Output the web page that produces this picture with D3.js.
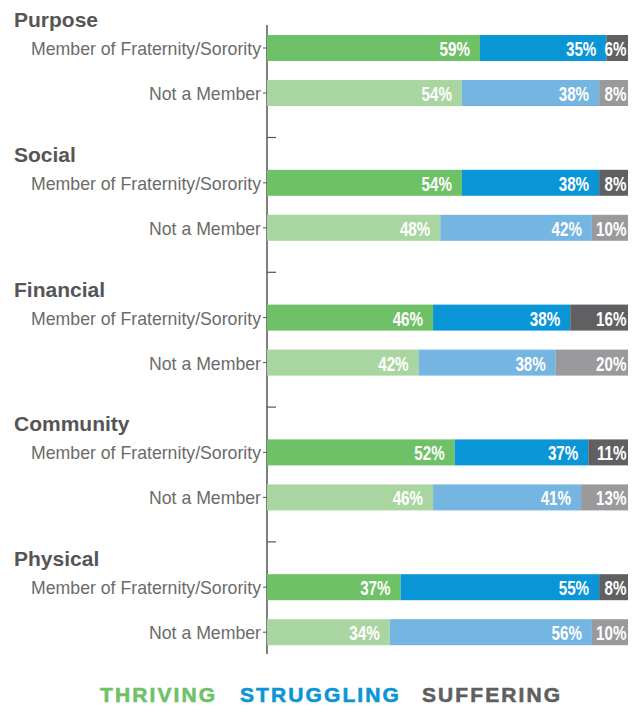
<!DOCTYPE html>
<html>
<head>
<meta charset="utf-8">
<script src="https://cdn.jsdelivr.net/npm/d3@7"></script>
<style>
  body { margin: 0; background: #fff; }
  svg { display: block; }
</style>
</head>
<body>
<svg id="chart"></svg>
<script>
"use strict";

// data
const categories = ["Purpose", "Social", "Financial", "Community", "Physical"];
const groups = ["Member of Fraternity/Sorority", "Not a Member"];
const statuses = ["THRIVING", "STRUGGLING", "SUFFERING"];

const memberValues = [
  [59, 35, 6],
  [54, 38, 8],
  [46, 38, 16],
  [52, 37, 11],
  [37, 55, 8]
];
const nonMemberValues = [
  [54, 38, 8],
  [48, 42, 10],
  [42, 38, 20],
  [46, 41, 13],
  [34, 56, 10]
];

const memberColors = ["#6fc167", "#0a96d6", "#606062"];
const nonMemberColors = ["#a9d6a0", "#74b5e2", "#9a9a9c"];
const legendColors = ["#6fc167", "#0a96d6", "#5f5f61"];

const WIDTH = 636;
const HEIGHT = 706;
const AXIS_X = 267;
const BAR_HEIGHT = 26;

const svg = d3.select("#chart")
  .attr("width", WIDTH)
  .attr("height", HEIGHT);

const x = d3.scaleLinear()
  .domain([0, 100])
  .range([AXIS_X, 628]);

const groupY = d3.scaleBand()
  .domain(categories)
  .range([8, 8 + 134.8 * categories.length]);

const rowY = d3.scalePoint()
  .domain(groups)
  .range([27, 72]);

// vertical axis line
svg.append("line")
  .attr("x1", AXIS_X).attr("x2", AXIS_X)
  .attr("y1", 25).attr("y2", 654)
  .attr("stroke", "#555")
  .attr("stroke-width", 1.5);

const group = svg.selectAll("g.cat")
  .data(categories)
  .enter()
  .append("g")
  .attr("class", "cat")
  .attr("transform", function(d) { return "translate(0," + groupY(d) + ")"; });

group.append("text")
  .attr("x", 14)
  .attr("y", 19)
  .attr("font-family", "Liberation Sans, Arial, sans-serif")
  .attr("font-weight", "bold")
  .attr("font-size", 21)
  .attr("fill", "#555")
  .text(function(d) { return d; });

// separator ticks between groups
group.filter(function(d, i) { return i < categories.length - 1; })
  .append("line")
  .attr("x1", AXIS_X).attr("x2", AXIS_X + 9)
  .attr("y1", 129.5).attr("y2", 129.5)
  .attr("stroke", "#555")
  .attr("stroke-width", 1.2);

group.each(function(cat, ci) {
  const g = d3.select(this);
  groups.forEach(function(row, ri) {
    const vals = ri === 0 ? memberValues[ci] : nonMemberValues[ci];
    const colors = ri === 0 ? memberColors : nonMemberColors;
    const y0 = rowY(row);

    // small tick left of axis
    g.append("line")
      .attr("x1", AXIS_X - 4).attr("x2", AXIS_X)
      .attr("y1", y0 + BAR_HEIGHT / 2).attr("y2", y0 + BAR_HEIGHT / 2)
      .attr("stroke", "#555")
      .attr("stroke-width", 1);

    g.append("text")
      .attr("x", 261)
      .attr("y", y0 + BAR_HEIGHT / 2 + 7)
      .attr("text-anchor", "end")
      .attr("font-family", "Liberation Sans, Arial, sans-serif")
      .attr("font-size", 17.7)
      .attr("fill", "#6b6b6b")
      .text(row);

    let acc = 0;
    const segs = vals.map(function(v, i) {
      const s = { start: acc, end: acc + v, value: v, color: colors[i], last: i === vals.length - 1 };
      acc += v;
      return s;
    });

    g.selectAll("rect.r" + ri)
      .data(segs)
      .enter()
      .append("rect")
      .attr("class", "r" + ri)
      .attr("x", function(d) { return x(d.start); })
      .attr("y", y0)
      .attr("width", function(d) { return x(d.end) - x(d.start); })
      .attr("height", BAR_HEIGHT)
      .attr("fill", function(d) { return d.color; });

    // condensed white value labels
    g.selectAll("text.v" + ri)
      .data(segs)
      .enter()
      .append("text")
      .attr("class", "v" + ri)
      .attr("transform", function(d) {
        const tx = x(d.end) - (d.last ? 1.5 : 10);
        return "translate(" + tx + "," + (y0 + BAR_HEIGHT / 2 + 8) + ") scale(0.76,1)";
      })
      .attr("text-anchor", "end")
      .attr("font-family", "Liberation Sans, Arial, sans-serif")
      .attr("font-weight", "bold")
      .attr("font-size", 20)
      .attr("fill", "#fff")
      .text(function(d) { return d.value + "%"; });
  });
});

// legend
const legendX = d3.scaleOrdinal()
  .domain(statuses)
  .range([100, 240, 422]);

svg.selectAll("text.legend")
  .data(statuses)
  .enter()
  .append("text")
  .attr("class", "legend")
  .attr("x", function(d) { return legendX(d); })
  .attr("y", 702)
  .attr("font-family", "Liberation Sans, Arial, sans-serif")
  .attr("font-weight", "bold")
  .attr("font-size", 21)
  .attr("letter-spacing", 2.1)
  .attr("fill", function(d, i) { return legendColors[i]; })
  .attr("stroke", function(d, i) { return legendColors[i]; })
  .attr("stroke-width", 0.6)
  .text(function(d) { return d; });
</script>
</body>
</html>
